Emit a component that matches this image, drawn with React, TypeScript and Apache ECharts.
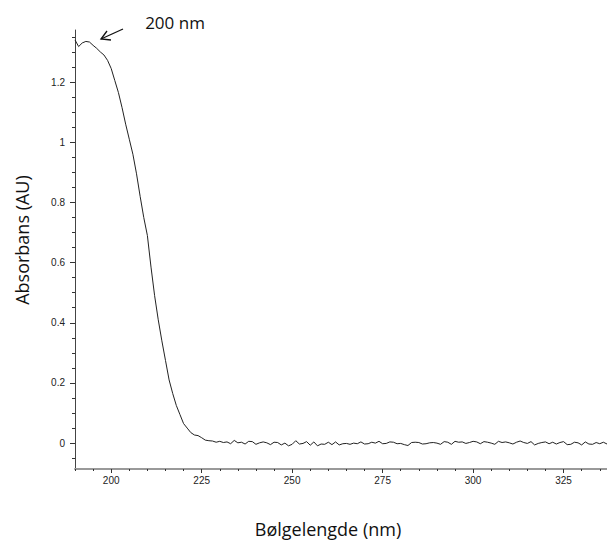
import React, { useEffect, useRef } from "react";
import * as echarts from "echarts";

// Wavelength grid: 190 nm .. 337 nm, 1 nm step
const startWavelength = 190;
const absorbance: number[] = [
  // 190 - 230 nm
  1.34, 1.318, 1.33, 1.335, 1.333, 1.322, 1.312, 1.3, 1.29, 1.272,
  1.245, 1.205, 1.165, 1.115, 1.06, 1.01, 0.96, 0.895, 0.82, 0.75,
  0.69, 0.585, 0.49, 0.41, 0.34, 0.275, 0.21, 0.165, 0.125, 0.095,
  0.065, 0.05, 0.035, 0.027, 0.025, 0.018, 0.01, 0.008, 0.007, 0.003,
  0.006,
  // 231 - 337 nm
  0.002, 0.004, -0.002, 0.009, 0.001, 0.003, -0.003, 0.006, 0.005, -0.004,
  0.001, 0.004, 0.001, -0.005, 0.003, 0.002, -0.006, 0.0, -0.009, -0.004,
  0.008, -0.003, -0.001, 0.005, -0.007, 0.004, -0.009, -0.003, -0.004, 0.003,
  -0.005, 0.004, -0.006, -0.002, -0.001, -0.004, 0.0, -0.002, 0.004, -0.003,
  -0.002, 0.003, 0.0, 0.006, -0.002, -0.001, 0.004, 0.003, -0.002, -0.001,
  -0.005, -0.008, 0.002, 0.003, 0.002, -0.003, -0.002, 0.001, 0.002, 0.0,
  -0.004, 0.005, 0.003, -0.004, 0.006, 0.003, 0.004, -0.001, 0.002, 0.006,
  0.004, -0.002, 0.005, 0.003, 0.0, -0.004, 0.006, 0.002, 0.004, 0.001,
  -0.003, 0.003, 0.007, 0.002, -0.001, 0.005, -0.006, -0.001, 0.002, 0.004,
  -0.002, 0.003, -0.003, 0.002, 0.005, -0.005, -0.004, 0.003, 0.001, -0.006,
  0.004, -0.003, -0.004, 0.002, -0.002, 0.003, -0.003,
];

const xMajorTicks = [200, 225, 250, 275, 300, 325];
const xMinorTicks = [
  190, 195, 200, 205, 210, 215, 220, 225, 230, 235, 240, 245, 250, 255, 260,
  265, 270, 275, 280, 285, 290, 295, 300, 305, 310, 315, 320, 325, 330, 335,
];
const yMajorTicks = [0, 0.2, 0.4, 0.6, 0.8, 1, 1.2];
const yMinorTicks = [
  -0.05, 0, 0.05, 0.1, 0.15, 0.2, 0.25, 0.3, 0.35, 0.4, 0.45, 0.5, 0.55, 0.6,
  0.65, 0.7, 0.75, 0.8, 0.85, 0.9, 0.95, 1, 1.05, 1.1, 1.15, 1.2, 1.25, 1.3,
  1.35,
];

const xMin = 190;
const xMax = 337;
const yMin = -0.086;
const yMax = 1.373;

const xTitle = "Bølgelengde (nm)";
const yTitle = "Absorbans (AU)";
const peakLabel = "200 nm";

export default function App() {
  const ref = useRef<HTMLDivElement>(null);

  useEffect(() => {
    if (!ref.current) return;
    const chart = echarts.init(ref.current, undefined, { renderer: "svg" });
    const data = absorbance.map((v, i) => [startWavelength + i, v]);
    const tickFont = {
      fontFamily: "Liberation Sans, Arial, sans-serif",
      fontSize: 10,
      color: "#222",
    };
    const titleFont = "Open Sans, sans-serif";

    chart.setOption({
      animation: false,
      backgroundColor: "#fff",
      grid: { left: 75, right: 0, top: 30, bottom: 73, containLabel: false },
      xAxis: [
        {
          type: "value",
          min: xMin,
          max: xMax,
          position: "bottom",
          axisLine: { show: true, onZero: false, lineStyle: { color: "#999", width: 2 } },
          axisTick: {
            show: true,
            inside: false,
            length: 4,
            customValues: xMajorTicks,
            lineStyle: { color: "#333", width: 1 },
          },
          axisLabel: {
            show: true,
            customValues: xMajorTicks,
            margin: 6,
            ...tickFont,
          },
          splitLine: { show: false },
        },
        {
          type: "value",
          min: xMin,
          max: xMax,
          position: "bottom",
          axisLine: { show: false, onZero: false },
          axisTick: {
            show: true,
            inside: false,
            length: 2,
            customValues: xMinorTicks,
            lineStyle: { color: "#333", width: 1 },
          },
          axisLabel: { show: false },
          splitLine: { show: false },
        },
      ],
      yAxis: [
        {
          type: "value",
          min: yMin,
          max: yMax,
          position: "left",
          axisLine: { show: true, onZero: false, lineStyle: { color: "#444", width: 1 } },
          axisTick: {
            show: true,
            inside: false,
            length: 5,
            customValues: yMajorTicks,
            lineStyle: { color: "#333", width: 1 },
          },
          axisLabel: {
            show: true,
            customValues: yMajorTicks,
            margin: 10,
            formatter: (v: number) => String(Math.round(v * 10) / 10),
            ...tickFont,
          },
          splitLine: { show: false },
        },
        {
          type: "value",
          min: yMin,
          max: yMax,
          position: "left",
          axisLine: { show: false, onZero: false },
          axisTick: {
            show: true,
            inside: false,
            length: 3,
            customValues: yMinorTicks,
            lineStyle: { color: "#333", width: 1 },
          },
          axisLabel: { show: false },
          splitLine: { show: false },
        },
      ],
      series: [
        {
          type: "line",
          data,
          showSymbol: false,
          symbol: "none",
          lineStyle: { color: "#222", width: 1 },
          xAxisIndex: 0,
          yAxisIndex: 0,
        },
      ],
      graphic: [
        {
          type: "text",
          x: 328,
          y: 529,
          style: {
            text: xTitle,
            font: `18px ${titleFont}`,
            fill: "#111",
            align: "center",
            verticalAlign: "middle",
          },
        },
        {
          type: "text",
          x: 22,
          y: 240,
          rotation: Math.PI / 2,
          style: {
            text: yTitle,
            font: `18px ${titleFont}`,
            fill: "#111",
            align: "center",
            verticalAlign: "middle",
          },
        },
        {
          type: "text",
          x: 175,
          y: 22,
          style: {
            text: peakLabel,
            font: `17px ${titleFont}`,
            fill: "#111",
            align: "center",
            verticalAlign: "middle",
          },
        },
        {
          type: "line",
          shape: { x1: 123, y1: 29, x2: 101, y2: 39 },
          style: { stroke: "#111", lineWidth: 1.3 },
        },
        {
          type: "polyline",
          shape: { points: [[107, 31], [101, 39], [111, 40]] },
          style: { stroke: "#111", lineWidth: 1.3, fill: null },
        },
      ],
    });
    return () => chart.dispose();
  }, []);

  return (
    <div
      ref={ref}
      style={{ position: "fixed", left: 0, top: 0, width: 607, height: 542 }}
    />
  );
}
